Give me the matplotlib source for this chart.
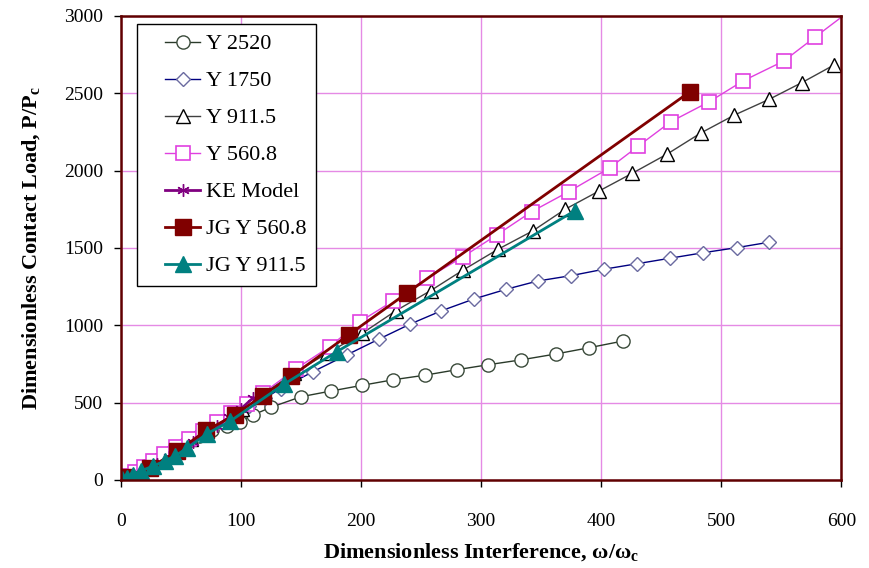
import matplotlib
matplotlib.use("Agg")
import numpy as np
import matplotlib.pyplot as plt
from matplotlib.lines import Line2D
from matplotlib.legend_handler import HandlerLine2D

plt.rcParams['font.family'] = ['Liberation Serif', 'DejaVu Serif']

# Y 2520 (open circles)
x_y2520 = [0, 3, 6, 10, 15, 20, 27, 35, 44, 54, 65, 76, 88, 99, 110, 125,
           150, 175, 201, 227, 253, 280, 306, 333, 362, 390, 418]
p_y2520 = [0, 8, 20, 38, 60, 85, 118, 155, 195, 238, 283, 322, 350, 377, 420, 470,
           538, 575, 612, 648, 677, 713, 745, 776, 814, 855, 898]

# Y 1750 (open diamonds)
x_y1750 = [0, 3, 7, 13, 20, 27, 40, 53, 67, 80, 93, 107, 120, 133, 160, 188, 215,
           241, 267, 294, 321, 347, 375, 402, 430, 457, 485, 513, 540]
p_y1750 = [0, 10, 28, 55, 85, 118, 180, 240, 305, 365, 420, 480, 530, 590, 700, 808, 911,
           1008, 1094, 1170, 1233, 1286, 1321, 1362, 1398, 1433, 1469, 1502, 1537]

# Y 911.5 (open triangles)
x_y911 = [0, 3, 7, 13, 20, 29, 38, 48, 58, 72, 87, 101, 115, 144, 172, 201, 229,
          258, 285, 314, 343, 370, 398, 426, 455, 483, 511, 540, 567, 594]
p_y911 = [0, 10, 28, 55, 88, 128, 170, 215, 262, 325, 395, 460, 540, 690, 820, 948, 1094,
          1224, 1357, 1491, 1610, 1750, 1867, 1983, 2107, 2243, 2359, 2461, 2568, 2683]

# Y 560.8 (open squares)
x_y560 = [0, 3, 7, 12, 19, 27, 36, 46, 57, 68, 80, 92, 105, 118, 146, 174, 199, 227,
          255, 285, 313, 342, 373, 407, 431, 458, 490, 518, 552, 578, 610]
p_y560 = [0, 10, 27, 50, 82, 120, 165, 212, 265, 318, 375, 430, 490, 560, 720, 862, 1023, 1159,
          1304, 1443, 1584, 1734, 1864, 2017, 2159, 2316, 2445, 2579, 2708, 2862, 3050]

# KE model
x_ke = [1, 3, 6, 10, 20, 30, 40, 50, 60, 70, 80, 90, 100, 110]
p_ke = [1, 5, 13, 25, 62, 103, 149, 196, 247, 298, 351, 405, 460, 530]

# JG Y 560.8
x_jg560 = [1, 4, 24, 47, 71, 95, 118, 142, 190, 238, 474]
p_jg560 = [3, 20, 80, 185, 320, 420, 545, 670, 940, 1207, 2510]

# JG Y 911.5
x_jg911 = [1, 5, 10, 17, 27, 37, 45, 55, 72, 91, 136, 180, 378]
p_jg911 = [3, 15, 35, 60, 90, 125, 155, 205, 300, 380, 620, 830, 1740]


class ShortLineHandler(HandlerLine2D):
    """Legend line that only covers the right part of the handle box."""
    def get_xdata(self, legend, xdescent, ydescent, width, height, fontsize):
        x0 = -xdescent + 0.34 * width
        x1 = -xdescent + width
        return [x0, x1], [0.5 * (x0 + x1)]


fig = plt.figure(figsize=(8.7, 5.68), dpi=100)
ax = fig.add_axes([0.139, 0.155, 0.828, 0.817])

ax.plot(x_y2520, p_y2520, '-o', color='#2a3a2a', lw=1, ms=9.5, mfc='white',
        mec='#3a4a3a', mew=1, label='Y 2520')
ax.plot(x_y1750, p_y1750, '-D', color='#000080', lw=1, ms=7.5, mfc='white',
        mec='#6a6aa0', mew=1, label='Y 1750')
ax.plot(x_y911, p_y911, '-^', color='#404040', lw=1, ms=10.5, mfc='white',
        mec='black', mew=1, label='Y 911.5')
ax.plot(x_y560, p_y560, '-s', color='#e040e0', lw=1, ms=9.5, mfc='white',
        mec='#e040e0', mew=1.2, label='Y 560.8')
ax.plot(x_ke, p_ke, '-', color='#800080', lw=2, marker=(6, 2, 0), ms=9,
        mew=1, label='KE Model')
ax.plot(x_jg560, p_jg560, '-s', color='#800000', lw=2, ms=11, mfc='#800000',
        mec='#800000', label='JG Y 560.8')
ax.plot(x_jg911, p_jg911, '-^', color='#008080', lw=2, ms=11, mfc='#008080',
        mec='#008080', label='JG Y 911.5')

ax.set_xlim(0, 600)
ax.set_ylim(0, 3000)
ax.set_xticks(range(0, 601, 100))
ax.set_yticks(range(0, 3001, 500))
ax.grid(True, color='#e58ae5', lw=1)
ax.set_axisbelow(True)

for s in ax.spines.values():
    s.set_color('#600000')
    s.set_linewidth(1.8)
ax.tick_params(direction='out', length=5, width=1, color='black', labelsize=14)
ax.tick_params(axis='x', pad=19)
ax.tick_params(axis='y', pad=8)

ax.set_xlabel(r'Dimensionless Interference, ω/ω$_\mathregular{c}$', fontsize=16,
              fontweight='bold', labelpad=8)
ax.set_ylabel(r'Dimensionless Contact Load, P/P$_\mathregular{c}$', fontsize=16,
              fontweight='bold', labelpad=15)

leg = ax.legend(loc='upper left', bbox_to_anchor=(0.022, 0.983), borderaxespad=0,
                fontsize=16, frameon=True, fancybox=False, framealpha=1,
                edgecolor='black', labelspacing=0.74, handlelength=2.4,
                handletextpad=0.25, borderpad=0.45,
                handler_map={Line2D: ShortLineHandler()})
leg.get_frame().set_linewidth(1)

fig.savefig('out.png', dpi=100, facecolor='white')
